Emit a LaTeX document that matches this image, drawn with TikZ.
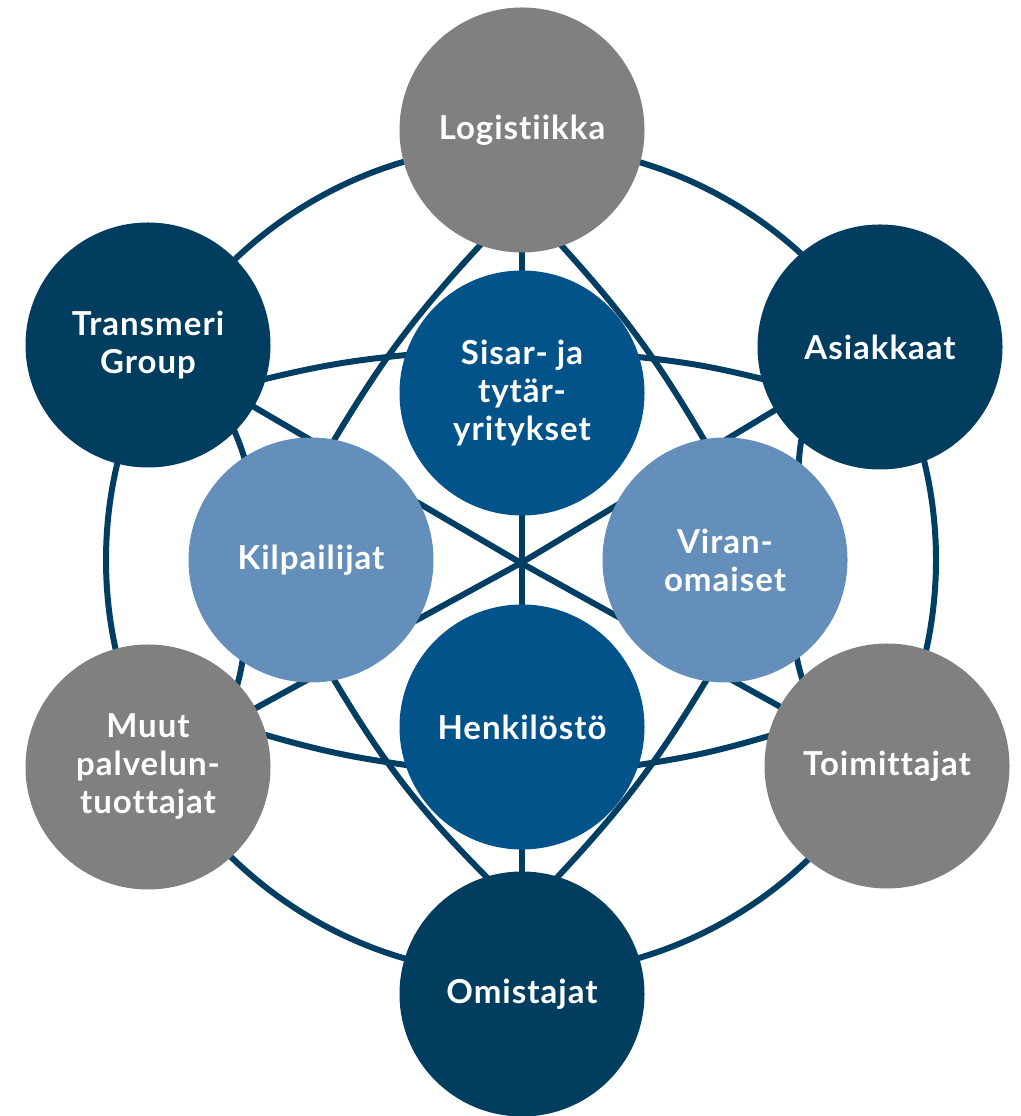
\documentclass[tikz,border=0pt]{standalone}
\usepackage{fontspec}
\setmainfont{Lato}[LetterSpace=3,Ligatures={NoCommon}]
\pgfdeclarelayer{bg}
\pgfsetlayers{bg,main}
\definecolor{navy}{HTML}{003D5F}
\definecolor{midblue}{HTML}{02538A}
\definecolor{lightblue}{HTML}{638FBA}
\definecolor{greyc}{HTML}{808080}
\definecolor{linec}{HTML}{003F63}
\begin{document}
\begin{tikzpicture}[x=1pt,y=1pt,
  hub/.style={circle,minimum size=245pt,inner sep=0pt,text=white,align=center,
    font=\bfseries\fontsize{33}{38}\selectfont},
  conn/.style={draw=linec,line width=6pt},
  arcconn/.style={conn,shorten <=-6pt,shorten >=-6pt}]
\useasboundingbox (0,0) rectangle (1020,1116);
\node[hub,fill=greyc] (logi) at (522,986) {Logistiikka};
\node[hub,fill=navy] (tran) at (148,771) {Transmeri\\Group};
\node[hub,fill=navy] (asia) at (880,769) {Asiakkaat};
\node[hub,fill=greyc] (muut) at (148,349) {Muut\\palvelun-\\tuottajat};
\node[hub,fill=greyc] (toim) at (887,350) {Toimittajat};
\node[hub,fill=navy] (omis) at (522,122) {Omistajat};
\node[hub,fill=midblue] (sisar) at (522,723) {Sisar- ja\\tytär-\\yritykset};
\node[hub,fill=midblue] (henk) at (522,389) {Henkilöstö};
\node[hub,fill=lightblue] (kilp) at (311,556) {Kilpailijat};
\node[hub,fill=lightblue] (viran) at (725,556) {Viran-\\omaiset};
\coordinate (ctr) at (521,553);
\coordinate (ring) at (521,556);
\begin{pgfonlayer}{bg}
\draw[conn] (ring) circle[radius=415];
\draw[conn] (logi.center) -- (omis.center);
\draw[conn] (tran.center) -- (ctr) -- (toim.center);
\draw[conn] (asia.center) -- (ctr) -- (muut.center);
\draw[arcconn] (logi.250) to[bend right=6] (kilp.79);
\draw[arcconn] (kilp.281) to[bend right=7] (omis.107);
\draw[arcconn] (logi.289) to[bend left=6] (viran.100);
\draw[arcconn] (viran.261) to[bend left=6] (omis.73);
\draw[arcconn] (tran.344) to[bend left=4] (sisar.162);
\draw[arcconn] (sisar.17) to[bend left=4] (asia.195);
\draw[arcconn] (muut.15) to[bend right=4] (henk.198);
\draw[arcconn] (henk.342) to[bend right=4] (toim.166);
\draw[arcconn] (tran.315) to[bend left=3] (kilp.123);
\draw[arcconn] (kilp.236) to[bend left=3] (muut.43);
\draw[arcconn] (asia.230) to[bend right=3] (viran.53);
\draw[arcconn] (viran.306) to[bend right=3] (toim.134);
\end{pgfonlayer}
\end{tikzpicture}
\end{document}
